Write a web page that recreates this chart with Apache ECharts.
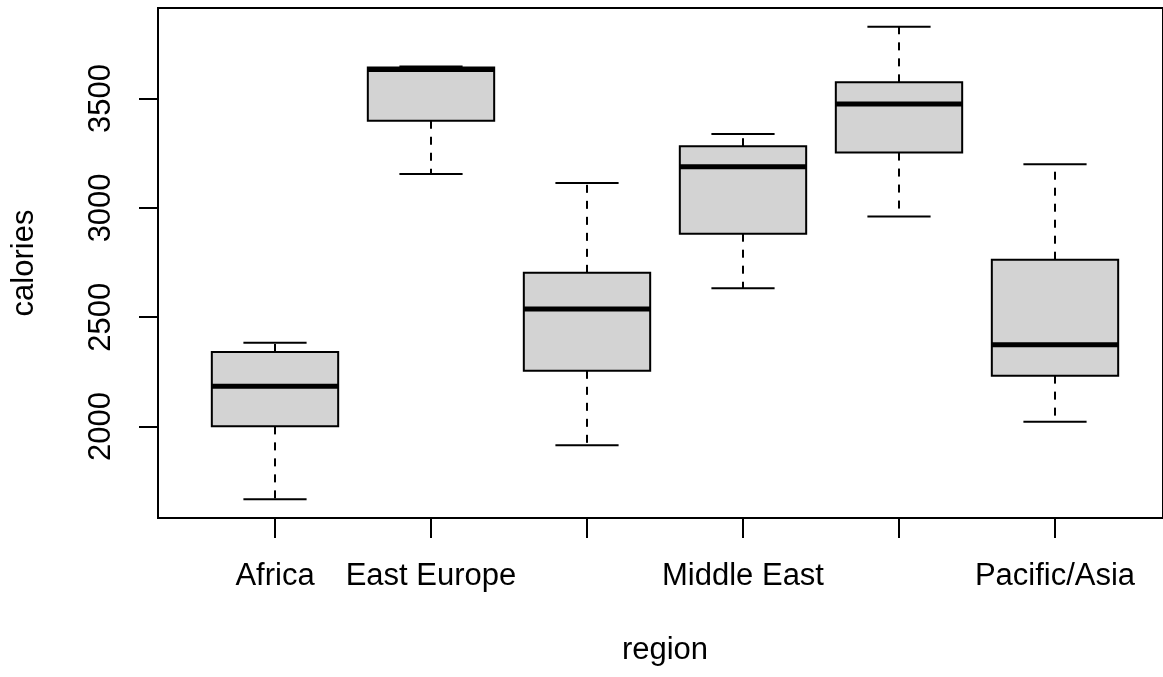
<!DOCTYPE html>
<html>
<head>
<meta charset="utf-8">
<title>calories by region</title>
<script src="https://cdn.jsdelivr.net/npm/echarts@6/dist/echarts.min.js"></script>
<style>
  html, body { margin: 0; padding: 0; background: #fff; }
  #chart { width: 1163px; height: 677px; }
</style>
</head>
<body>
<div id="chart"></div>
<script>
// values
const regions = ['Africa', 'East Europe', 'Latin America', 'Middle East', 'North America', 'Pacific/Asia'];
const whiskerLow = [1668, 3155, 1915, 2633, 2961, 2022];
const quartile1 = [2001, 3398, 2255, 2882, 3253, 2233];
const medians = [2185, 3633, 2538, 3188, 3475, 2374];
const quartile3 = [2341, 3642, 2703, 3282, 3574, 2763];
const whiskerHigh = [2383, 3647, 3114, 3338, 3828, 3199];
const yTicks = [2000, 2500, 3000, 3500];
const hiddenLabels = [2, 4]; // R drops these ones, they would overlap

const yMin = 1582, yMax = 3914;
const font = 'Liberation Sans, Arial, Helvetica, sans-serif';

const chart = echarts.init(document.getElementById('chart'), null, { renderer: 'canvas' });

function renderBox(params, api) {
  const i = api.value(0);
  const lo = api.coord([i, api.value(1)]);
  const q1 = api.coord([i, api.value(2)]);
  const md = api.coord([i, api.value(3)]);
  const q3 = api.coord([i, api.value(4)]);
  const hi = api.coord([i, api.value(5)]);
  const band = api.size([1, 0])[0];
  const half = band * 0.405;
  const cap = half / 2;
  const cx = md[0];
  const solid = { stroke: '#000', lineWidth: 2, fill: null };
  const dashed = { stroke: '#000', lineWidth: 2, lineDash: [8, 8], fill: null };
  return {
    type: 'group',
    children: [
      { type: 'line', shape: { x1: cx, y1: q3[1], x2: cx, y2: hi[1] }, style: dashed },
      { type: 'line', shape: { x1: cx, y1: q1[1], x2: cx, y2: lo[1] }, style: dashed },
      { type: 'line', shape: { x1: cx - cap, y1: hi[1], x2: cx + cap, y2: hi[1] }, style: solid },
      { type: 'line', shape: { x1: cx - cap, y1: lo[1], x2: cx + cap, y2: lo[1] }, style: solid },
      {
        type: 'rect',
        shape: { x: cx - half, y: q3[1], width: half * 2, height: q1[1] - q3[1] },
        style: { fill: '#d3d3d3', stroke: '#000', lineWidth: 2 }
      },
      { type: 'line', shape: { x1: cx - half, y1: md[1], x2: cx + half, y2: md[1] }, style: { stroke: '#000', lineWidth: 5 } }
    ]
  };
}

const boxData = regions.map((r, i) => [i, whiskerLow[i], quartile1[i], medians[i], quartile3[i], whiskerHigh[i]]);

const option = {
  animation: false,
  backgroundColor: '#fff',
  grid: [
    // frame, its right side falls outside the picture like in the original
    { left: 158, top: 8, width: 1010, height: 510, show: true, borderColor: '#000', borderWidth: 2, backgroundColor: 'transparent' },
    // boxes
    { left: 197, top: 8, width: 936, height: 510 }
  ],
  xAxis: [
    { gridIndex: 0, type: 'value', show: false },
    {
      gridIndex: 1,
      type: 'category',
      data: regions,
      boundaryGap: true,
      axisLine: { show: false },
      axisTick: { show: true, alignWithLabel: true, interval: 0, length: 20, lineStyle: { color: '#000', width: 2 } },
      axisLabel: {
        interval: (index) => hiddenLabels.indexOf(index) < 0,
        margin: 43,
        fontSize: 31,
        fontFamily: font,
        color: '#000'
      },
      splitLine: { show: false },
      name: 'region',
      nameLocation: 'middle',
      nameGap: 117,
      nameTextStyle: { fontSize: 31, fontFamily: font, color: '#000' }
    }
  ],
  yAxis: [
    {
      gridIndex: 0,
      type: 'value',
      min: yMin,
      max: yMax,
      axisLine: { show: false },
      axisTick: { show: true, customValues: yTicks, length: 19, lineStyle: { color: '#000', width: 2 } },
      axisLabel: {
        customValues: yTicks,
        formatter: (v) => String(v),
        rotate: 90,
        margin: 41,
        fontSize: 31,
        fontFamily: font,
        color: '#000'
      },
      splitLine: { show: false },
      name: 'calories',
      nameLocation: 'middle',
      nameRotate: 90,
      nameGap: 118,
      nameTextStyle: { fontSize: 31, fontFamily: font, color: '#000' }
    },
    { gridIndex: 1, type: 'value', min: yMin, max: yMax, show: false }
  ],
  series: [
    {
      type: 'custom',
      xAxisIndex: 1,
      yAxisIndex: 1,
      renderItem: renderBox,
      encode: { x: 0, y: [1, 2, 3, 4, 5] },
      data: boxData
    }
  ]
};

chart.setOption(option);
</script>
</body>
</html>
